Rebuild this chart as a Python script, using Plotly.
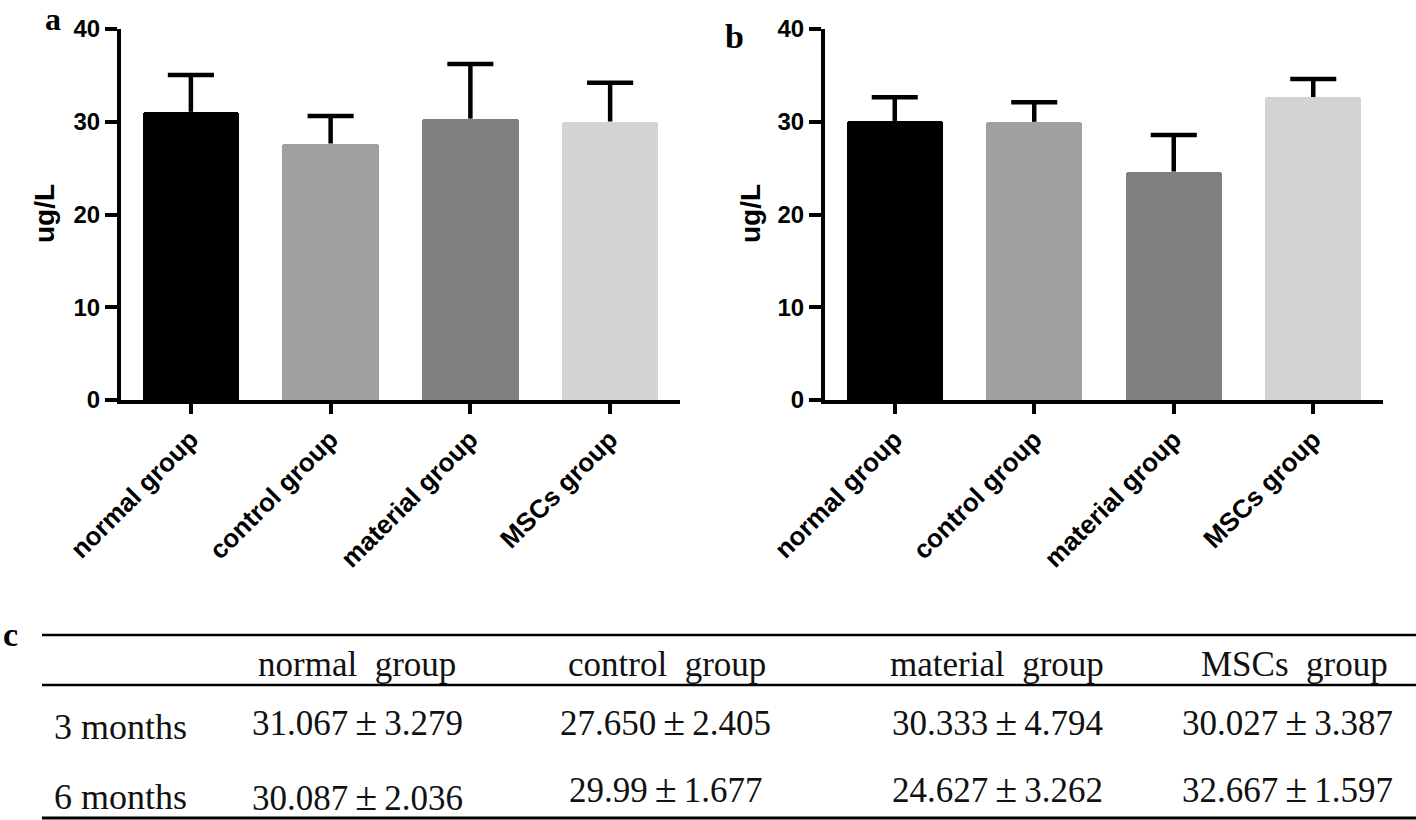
import plotly.graph_objects as go

# ---------------- data ----------------
groups = ["normal group", "control group", "material group", "MSCs group"]
bar_colors = ["#000000", "#a0a0a0", "#7f7f7f", "#d3d3d3"]

mean_3m = [31.067, 27.650, 30.333, 30.027]
err_3m = [3.97, 2.97, 5.90, 4.18]      # upper error-bar lengths
mean_6m = [30.087, 29.99, 24.627, 32.667]
err_6m = [2.55, 2.10, 3.95, 1.95]      # upper error-bar lengths

y_ticks = [0, 10, 20, 30, 40]

row_labels = ["3 months", "6 months"]
cells_3m = ["31.067±3.279", "27.650±2.405", "30.333±4.794", "30.027±3.387"]
cells_6m = ["30.087±2.036", "29.99±1.677", "24.627±3.262", "32.667±1.597"]

# ---------------- layout helpers ----------------
W, H = 1416, 820


def px(x):
    return x / W


def py(y):
    return 1 - y / H


SANS = "Liberation Sans"
SERIF = "Liberation Serif"
CAP_HALF = 0.165   # half-width of the error-bar cap, in category units

fig = go.Figure()
xpos = list(range(len(groups)))

for i, (means, errs) in enumerate([(mean_3m, err_3m), (mean_6m, err_6m)]):
    suffix = "" if i == 0 else "2"
    fig.add_trace(go.Bar(
        x=xpos, y=means,
        width=0.69,
        marker=dict(color=bar_colors, line=dict(width=0), cornerradius=3),
        xaxis="x" + suffix, yaxis="y" + suffix,
        showlegend=False, hoverinfo="skip",
    ))
    # upper-only error bars (stem + top cap)
    ex, ey = [], []
    for xc, m, e in zip(xpos, means, errs):
        ex += [xc, xc, None, xc - CAP_HALF, xc + CAP_HALF, None]
        ey += [m, m + e, None, m + e, m + e, None]
    fig.add_trace(go.Scatter(
        x=ex, y=ey, mode="lines", line=dict(color="#000000", width=4.5),
        xaxis="x" + suffix, yaxis="y" + suffix,
        showlegend=False, hoverinfo="skip", cliponaxis=False,
    ))

axis_common_x = dict(
    range=[-0.5, 3.5], tickvals=xpos, ticktext=groups,
    showline=True, linewidth=4, linecolor="#000000",
    ticks="outside", ticklen=10, tickwidth=4, tickcolor="#000000",
    tickangle=-45, showgrid=False, zeroline=False, automargin=False,
    tickfont=dict(family=SANS, size=26, color="#000000", weight="bold"),
)
axis_common_y = dict(
    range=[0, 40], tickvals=y_ticks, showline=True, linewidth=4,
    linecolor="#000000", ticks="outside", ticklen=12, tickwidth=4,
    tickcolor="#000000", showgrid=False, zeroline=False, automargin=False,
    tickfont=dict(family=SANS, size=24, color="#000000", weight="bold"),
)

fig.update_layout(
    width=W, height=H,
    margin=dict(l=0, r=0, t=0, b=0, autoexpand=False),
    paper_bgcolor="#ffffff", plot_bgcolor="#ffffff",
    xaxis=dict(domain=[px(121), px(680)], anchor="y", **axis_common_x),
    yaxis=dict(domain=[py(400), py(29)], anchor="x", **axis_common_y),
    xaxis2=dict(domain=[px(825), px(1383)], anchor="y2", **axis_common_x),
    yaxis2=dict(domain=[py(400), py(29)], anchor="x2", **axis_common_y),
    bargap=0,
)

ann = []
# y-axis titles
for xc in (44, 750):
    ann.append(dict(text="ug/L", x=px(xc), y=py(214), xref="paper", yref="paper",
                    showarrow=False, textangle=-90, xanchor="center", yanchor="middle",
                    font=dict(family=SANS, size=28, color="#000000", weight="bold")))
# panel letters
ann.append(dict(text="a", x=px(53), y=1, xref="paper", yref="paper",
                showarrow=False, xanchor="center", yanchor="top", borderpad=0,
                font=dict(family=SERIF, size=32, color="#000000", weight="bold")))
for letter, xc, yc in (("b", 734, 36), ("c", 10, 634)):
    ann.append(dict(text=letter, x=px(xc), y=py(yc), xref="paper", yref="paper",
                    showarrow=False, xanchor="center", yanchor="middle",
                    font=dict(family=SERIF, size=34, color="#000000", weight="bold")))

# table
header_x = [357, 667, 997, 1294]
value_x = [357, 665, 997, 1287]
row1_y = [721, 721, 721, 721]
row2_y = [796, 788, 788, 788]
tfont = dict(family=SERIF, size=35, color="#111111")


def cell(s):
    return s.replace("±", "\u2009<span style='font-size:40px'>±</span>\u2009")


for j, g in enumerate(groups):
    ann.append(dict(text=g.replace(" ", "&nbsp; "), x=px(header_x[j]), y=py(664),
                    xref="paper", yref="paper", showarrow=False,
                    xanchor="center", yanchor="middle", font=tfont))
    ann.append(dict(text=cell(cells_3m[j]), x=px(value_x[j]), y=py(row1_y[j]),
                    xref="paper", yref="paper", showarrow=False,
                    xanchor="center", yanchor="middle", font=tfont))
    ann.append(dict(text=cell(cells_6m[j]), x=px(value_x[j]), y=py(row2_y[j]),
                    xref="paper", yref="paper", showarrow=False,
                    xanchor="center", yanchor="middle", font=tfont))
for lab, yc in zip(row_labels, (727, 797)):
    ann.append(dict(text=lab, x=px(52), y=py(yc), xref="paper", yref="paper",
                    showarrow=False, xanchor="left", yanchor="middle",
                    font=dict(family=SERIF, size=36, color="#111111")))

shapes = []
for yy, lw in ((635, 2.5), (685, 2.5), (818, 3)):
    shapes.append(dict(type="line", xref="paper", yref="paper",
                       x0=px(42), x1=1, y0=py(yy), y1=py(yy),
                       line=dict(color="#000000", width=lw)))

fig.update_layout(annotations=ann, shapes=shapes)

fig.write_html("out.html", config={"displayModeBar": False},
               post_script="document.body.style.margin='0';")
